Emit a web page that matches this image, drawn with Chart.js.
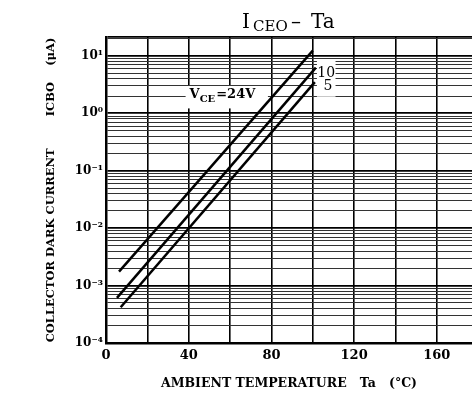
<!DOCTYPE html>
<html><head><meta charset="utf-8">
<script src="https://cdn.jsdelivr.net/npm/chart.js@4"></script>
<style>html,body{margin:0;padding:0;background:#fff}</style>
</head><body>
<canvas id="c" width="472" height="394" style="width:472px;height:394px;display:block"></canvas>
<script>
// ---- data ----
const xTickValues = [0, 20, 40, 60, 80, 100, 120, 140, 160];
const xTickLabels = ['0', '', '40', '', '80', '', '120', '', '160'];
const yDecadeExps = [-4, -3, -2, -1, 0, 1];
const yDecadeLabels = ['10⁻⁴', '10⁻³', '10⁻²', '10⁻¹', '10⁰', '10¹'];
const seriesNames = ['VCE=24V', '10', '5'];
const temp24 = [6.3, 100];   const icbo24 = [0.00175, 12.4];
const temp10 = [5.3, 101.5]; const icbo10 = [0.00061, 6.25];
const temp5  = [7.1, 101];   const icbo5  = [0.00042, 3.5];
const xMin = 0, xMax = 177, yMin = 0.0001, yMax = 21.4;

const SERIF = '"DejaVu Serif", "Liberation Serif", serif';
const toPts = (xs, ys) => xs.map((v, i) => ({x: v, y: ys[i]}));

const isDecade = v => Math.abs(Math.log10(v) - Math.round(Math.log10(v))) < 1e-9;

const annotate = {
  id: 'annotate',
  beforeDatasetsDraw(chart) {
    const {ctx, scales: {x, y}} = chart;
    ctx.save();
    ctx.fillStyle = '#fff';
    let x1 = x.getPixelForValue(38.5), x2 = x.getPixelForValue(78.3);
    let y1 = y.getPixelForValue(3.0), y2 = y.getPixelForValue(1.22);
    ctx.fillRect(x1, y1, x2 - x1, y2 - y1);
    x1 = x.getPixelForValue(102); x2 = x.getPixelForValue(111);
    y1 = y.getPixelForValue(8.6); y2 = y.getPixelForValue(1.95);
    ctx.fillRect(x1, y1, x2 - x1, y2 - y1);
    ctx.fillStyle = '#000';
    ctx.textBaseline = 'alphabetic';
    ctx.textAlign = 'left';
    // V_CE = 24V
    let px = x.getPixelForValue(40.4), py = y.getPixelForValue(1.85);
    ctx.font = 'bold 13px ' + SERIF;
    ctx.fillText('V', px, py);
    px += ctx.measureText('V').width;
    ctx.font = 'bold 10px ' + SERIF;
    ctx.fillText('CE', px, py + 4);
    px += ctx.measureText('CE').width + 1;
    ctx.font = 'bold 13px ' + SERIF;
    ctx.fillText('=24V', px, py);
    // 10 and 5
    ctx.font = '14px ' + SERIF;
    ctx.fillText(seriesNames[1], x.getPixelForValue(102.2), y.getPixelForValue(4.3));
    ctx.fillText(seriesNames[2], x.getPixelForValue(105.2), y.getPixelForValue(2.57));
    ctx.restore();
  },
  afterDraw(chart) {
    const {ctx, chartArea} = chart;
    ctx.save();
    ctx.fillStyle = '#000';
    ctx.textBaseline = 'alphabetic';
    ctx.textAlign = 'left';
    const cx = (chartArea.left + chartArea.right) / 2;
    const py = 28;
    ctx.font = '20px ' + SERIF; ctx.fillText('I', cx - 47, py);
    ctx.font = '15px ' + SERIF; ctx.fillText('CEO', cx - 36, py + 3);
    ctx.font = '20px ' + SERIF; ctx.fillText('–', cx + 2, py);
    ctx.fillText('Ta', cx + 22, py);
    ctx.restore();
  }
};

new Chart(document.getElementById('c'), {
  type: 'line',
  data: {
    datasets: [
      {label: seriesNames[0], data: toPts(temp24, icbo24)},
      {label: seriesNames[1], data: toPts(temp10, icbo10)},
      {label: seriesNames[2], data: toPts(temp5, icbo5)}
    ].map(d => Object.assign(d, {borderColor: '#000', borderWidth: 2.5, pointRadius: 0, tension: 0, fill: false}))
  },
  options: {
    responsive: false,
    animation: false,
    devicePixelRatio: 1,
    layout: {padding: {top: 37, left: 0, right: 0, bottom: 0}},
    plugins: {legend: {display: false}, tooltip: {enabled: false}, title: {display: false}},
    scales: {
      x: {
        type: 'linear', min: xMin, max: xMax,
        afterBuildTicks: s => { s.ticks = xTickValues.map(v => ({value: v})); },
        afterFit: s => { s.height = 51; },
        ticks: {
          autoSkip: false, maxRotation: 0, padding: 5, color: '#000',
          font: {family: SERIF, size: 13, weight: 'bold'},
          callback: v => { const i = xTickValues.indexOf(v); return i >= 0 ? xTickLabels[i] : ''; }
        },
        grid: {color: '#000', lineWidth: 1.6, drawTicks: false},
        border: {color: '#000', width: 2.5},
        title: {display: true, text: 'AMBIENT TEMPERATURE   Ta   (°C)', color: '#000',
                font: {family: SERIF, size: 12.5, weight: 'bold'}, padding: {top: 0, bottom: 3}}
      },
      y: {
        type: 'logarithmic', min: yMin, max: yMax,
        afterBuildTicks: s => {
          const t = [];
          yDecadeExps.forEach(e => { for (let m = 1; m <= 9; m++) { const v = m * Math.pow(10, e); if (v >= yMin && v < yMax) t.push({value: v}); } });
          t.push({value: yMax});
          s.ticks = t;
        },
        afterFit: s => { s.width = 106; },
        ticks: {
          autoSkip: false, padding: 3, color: '#000',
          font: {family: SERIF, size: 12, weight: 'bold'},
          callback: v => { if (!isDecade(v)) return ''; const i = yDecadeExps.indexOf(Math.round(Math.log10(v))); return i >= 0 ? yDecadeLabels[i] : ''; }
        },
        grid: {
          drawTicks: false,
          color: c => (c.tick && (isDecade(c.tick.value) || c.tick.value === yMax)) ? '#000' : '#333',
          lineWidth: c => (c.tick && (isDecade(c.tick.value) || c.tick.value === yMax)) ? 1.8 : 1
        },
        border: {color: '#000', width: 2.5},
        title: {display: true, text: 'COLLECTOR DARK CURRENT        ICBO    (μA)', color: '#000',
                font: {family: SERIF, size: 11.5, weight: 'bold'}, padding: {top: 44, bottom: 0}}
      }
    }
  },
  plugins: [annotate]
});
</script>
</body></html>
